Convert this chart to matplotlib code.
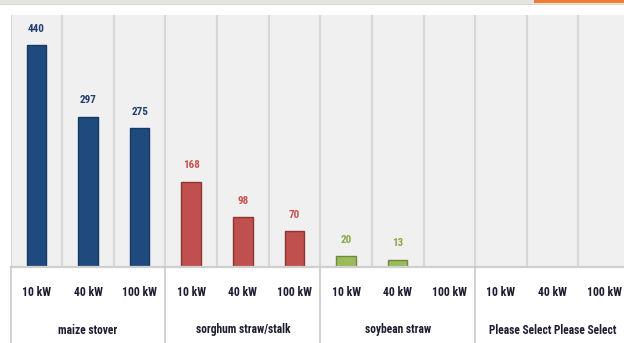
import matplotlib
matplotlib.use("Agg")
import matplotlib.pyplot as plt
from matplotlib import font_manager
from matplotlib.transforms import blended_transform_factory

# ---- data -------------------------------------------------------------
groups = ["maize stover", "sorghum straw/stalk", "soybean straw",
          "Please Select Please Select"]
sizes = ["10 kW", "40 kW", "100 kW"]
maize_values = [440, 297, 275]
sorghum_values = [168, 98, 70]
soybean_values = [20, 13, None]
select_values = [None, None, None]
group_values = [maize_values, sorghum_values, soybean_values, select_values]

bar_colors = ["#1f4a7e", "#c0504d", "#9bbb59", "#808080"]
edge_colors = ["#163a64", "#8e3431", "#71893f", "#606060"]
label_colors = ["#1f3f6e", "#c9524f", "#8aaa45", "#808080"]

# ---- font -------------------------------------------------------------
available = {f.name for f in font_manager.fontManager.ttflist}
family = "DejaVu Sans"
for cand in ["Liberation Sans Narrow", "Roboto Condensed", "Open Sans Condensed",
             "Noto Sans Condensed", "Liberation Sans", "Noto Sans"]:
    if cand in available:
        family = cand
        break
plt.rcParams["font.family"] = [family, "DejaVu Sans"]

W, H = 624, 343
fig = plt.figure(figsize=(W / 100, H / 100), dpi=100)
fig.patch.set_facecolor("white")

# top strip with an orange accent on the right
strip = fig.add_axes([0, (H - 5) / H, 1, 5 / H])
strip.set_xlim(0, W)
strip.set_ylim(0, 5)
strip.axis("off")
strip.add_patch(plt.Rectangle((0, 0), W, 5, color="#e6e4de", lw=0))
strip.add_patch(plt.Rectangle((0, 0), W, 0.8, color="#d6d4ce", lw=0))
strip.add_patch(plt.Rectangle((534, 2.5), W - 534, 2.5, color="#ed7d31", lw=0))

# plot area (runs slightly beyond the right edge)
left, right = 10.5, 630.0
top, bottom = 15.0, 266.5
ax = fig.add_axes([left / W, (H - bottom) / H, (right - left) / W, (bottom - top) / H])
ax.set_facecolor("#f0f0f0")
n_slots = len(groups) * len(sizes)
ax.set_xlim(-0.5, n_slots - 0.5)
ax.set_ylim(0, 500)
for s in ax.spines.values():
    s.set_visible(False)
ax.set_xticks([])
ax.set_yticks([])

# slot separators
for k in range(n_slots):
    ax.axvline(k - 0.5, color="#d8d8d8", lw=1.6, zorder=1)
ax.axhline(0, color="#cfcfcf", lw=1.6, zorder=3, clip_on=False)

# bars and value labels
for g, vals in enumerate(group_values):
    for j, v in enumerate(vals):
        x = g * len(sizes) + j
        if v is None:
            continue
        ax.bar(x, v, width=0.38, color=bar_colors[g], edgecolor=edge_colors[g],
               linewidth=1.0, zorder=2)
        ax.annotate(f"{v}", (x, v), xytext=(0, 12), textcoords="offset points",
                    ha="center", va="center", fontsize=8, fontweight="bold",
                    color=label_colors[g])

# category axis below the plot
trans = blended_transform_factory(ax.transData, ax.transAxes)
px = 1.0 / (bottom - top)
for g in range(len(groups) + 1):
    xb = g * len(sizes) - 0.5
    ax.plot([xb, xb], [0, -(H - bottom) * px], transform=trans, color="#c8c8c8",
            lw=1.2, clip_on=False, zorder=3)
for g, name in enumerate(groups):
    for j, lab in enumerate(sizes):
        x = g * len(sizes) + j
        ax.text(x, -(292 - bottom) * px, lab, transform=trans, ha="center",
                va="center", fontsize=8.5, fontweight="bold", color="#1c1d30")
    ax.text(g * len(sizes) + 1, -(330 - bottom) * px, name, transform=trans,
            ha="center", va="center", fontsize=8.3, fontweight="bold",
            color="#1c1d30")

fig.savefig("out.png", dpi=100)
